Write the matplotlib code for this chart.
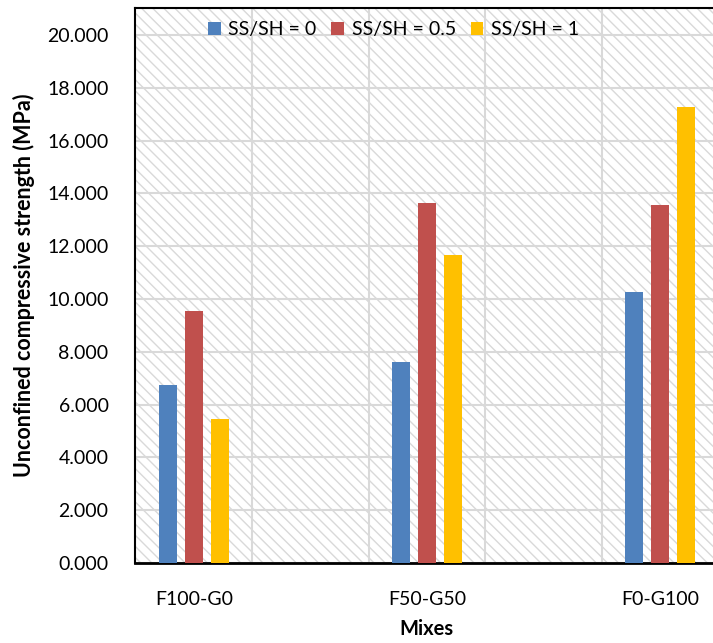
import numpy as np
import matplotlib
matplotlib.use("Agg")
import matplotlib.pyplot as plt
from matplotlib.patches import Patch

# Dane: wytrzymałość na ściskanie dla mieszanek
mixes = ["F100-G0", "F50-G50", "F0-G100"]
series_names = ["SS/SH = 0", "SS/SH = 0.5", "SS/SH = 1"]
ss_sh_0 = [6.74, 7.61, 10.26]
ss_sh_05 = [9.55, 13.64, 13.56]
ss_sh_1 = [5.45, 11.67, 17.27]
y_ticks = [0, 2, 4, 6, 8, 10, 12, 14, 16, 18, 20]

colors = ["#4F81BD", "#C0504D", "#FFC000"]

plt.rcParams["font.family"] = ["Lato", "DejaVu Sans"]
plt.rcParams["hatch.color"] = "#d9d9d9"
plt.rcParams["hatch.linewidth"] = 1.0

fig = plt.figure(figsize=(7.13, 6.43), dpi=100)
ax = fig.add_axes([0.1893, 0.1244, 0.8107 + 0.007, 0.8632])

x = np.arange(len(mixes))
width = 0.077
step = 0.1116

# Tło z ukośnym wzorem
ax.patch.set_facecolor("white")
ax.patch.set_hatch("\\\\\\")
ax.patch.set_edgecolor("#d9d9d9")
ax.patch.set_linewidth(0)

for i, (vals, name) in enumerate(zip([ss_sh_0, ss_sh_05, ss_sh_1], series_names)):
    ax.bar(x + (i - 1) * step, vals, width, color=colors[i], label=name, zorder=3)

ax.set_xlim(-0.253, 2.25)
ax.set_ylim(0, 21.02)
ax.set_yticks(y_ticks)
ax.set_yticklabels([f"{v:.3f}" for v in y_ticks])
ax.set_xticks(x)
ax.set_xticklabels(mixes)
ax.set_xticks([0.25, 0.75, 1.25, 1.75], minor=True)

ax.grid(axis="y", color="#d9d9d9", linewidth=1.5, zorder=1)
ax.grid(axis="x", which="minor", color="#d9d9d9", linewidth=1.5, zorder=1)
ax.tick_params(axis="both", which="both", length=0, labelsize=14, colors="black")
ax.tick_params(axis="y", pad=19)
ax.tick_params(axis="x", pad=20)

for side in ["left", "top"]:
    ax.spines[side].set_linewidth(1.5)
ax.spines["bottom"].set_linewidth(2)
ax.spines["right"].set_visible(False)

ax.set_ylabel("Unconfined compressive strength (MPa)", fontsize=15.5, fontweight="bold", labelpad=9)
ax.set_xlabel("Mixes", fontsize=14.5, fontweight="bold", labelpad=8)

handles = [Patch(facecolor=c, edgecolor="none") for c in colors]
leg = ax.legend(handles, series_names, loc="upper left", bbox_to_anchor=(0.112, 0.99),
                ncol=3, frameon=False, fontsize=14, handlelength=0.65, handleheight=0.65,
                handletextpad=0.4, columnspacing=0.75, borderaxespad=0)

fig.savefig("out.png", dpi=100)
